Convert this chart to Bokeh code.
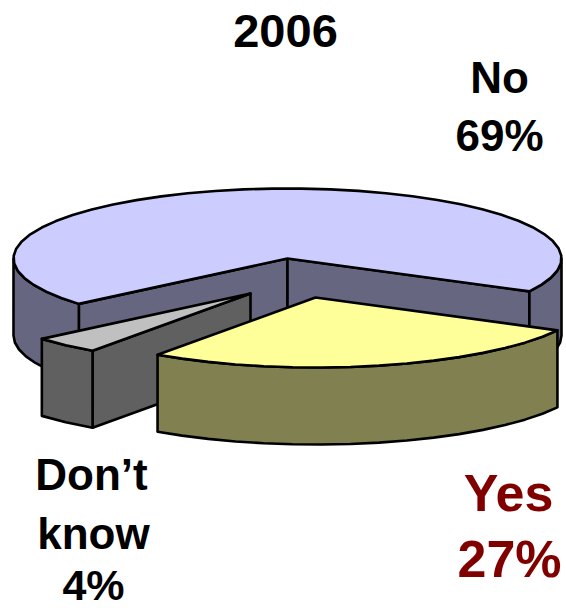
import numpy as np
from bokeh.embed import file_html
from bokeh.models import Range1d
from bokeh.plotting import figure
from bokeh.resources import INLINE
from bokeh.core.properties import value

categories = ["No", "Yes", "Don’t know"]
shares = [69, 27, 4]
title_text = "2006"

# Pie geometry in page pixels
CX, CY = 287, 258
RX, RY = 274, 70
DEPTH = 77
START_DEG = 139.6
EXPLODE = {"No": (0, 0), "Don’t know": (-37, 35), "Yes": (28, 39)}
TOP = {"No": "#CCCCFF", "Don’t know": "#C0C0C0", "Yes": "#FFFF99"}
SIDE = {"No": "#666680", "Don’t know": "#606060", "Yes": "#808050"}
STEP = 6.0

W, H = 566, 608
p = figure(width=W, height=H, x_range=Range1d(0, W), y_range=Range1d(H, 0),
           output_backend="svg", toolbar_location=None, min_border=0,
           outline_line_color=None, background_fill_color="white")
p.axis.visible = False
p.grid.visible = False


def rim(cx, cy, t0, t1):
    n = max(2, int(round((t1 - t0) / STEP)) + 1)
    t = np.radians(np.linspace(t0, t1, n))
    return cx + RX * np.cos(t), cy + RY * np.sin(t)


def face(xs, ys, color):
    p.patch(list(xs), list(ys), fill_color=color, line_color="black",
            line_width=2.6, line_join="round")


def front_spans(t0, t1):
    # Parts of the rim that face the viewer: the lower half of the ellipse
    spans = []
    for k in range(-1, 3):
        a, b = max(t0, 360 * k), min(t1, 360 * k + 180)
        if b > a:
            spans.append((a, b))
    return spans


def draw_slice(name, t0, t1):
    dx, dy = EXPLODE[name]
    cx, cy = CX + dx, CY + dy
    # Cut walls running from the hub to the rim, where they face the viewer
    for t, visible in ((t0, np.cos(np.radians(t0)) < 0), (t1, np.cos(np.radians(t1)) > 0)):
        if visible:
            ex = cx + RX * np.cos(np.radians(t))
            ey = cy + RY * np.sin(np.radians(t))
            face([cx, ex, ex, cx], [cy, ey, ey + DEPTH, cy + DEPTH], SIDE[name])
    # Curved outer wall
    for a, b in front_spans(t0, t1):
        xs, ys = rim(cx, cy, a, b)
        face(np.r_[xs, xs[::-1]], np.r_[ys, ys[::-1] + DEPTH], SIDE[name])
    # Top surface
    xs, ys = rim(cx, cy, t0, t1)
    face(np.r_[cx, xs], np.r_[cy, ys], TOP[name])


# Sweep clockwise on screen from the start angle
angle = START_DEG
spans = {}
for name, share in zip(categories, shares):
    sweep = 360.0 * share / sum(shares)
    spans[name] = (angle, angle + sweep)
    angle += sweep

# Paint back to front
for name in ["No", "Don’t know", "Yes"]:
    draw_slice(name, *spans[name])


def label(x, y, text, size, color="black"):
    p.text([x], [y], text=[text], text_font=value("Liberation Sans"),
           text_font_style="bold", text_font_size=size, text_color=color,
           text_align="center", text_baseline="middle")


label(285, 30, title_text, "47px")
label(499, 77, "No", "44px")
label(499, 135, f"{shares[0]}%", "44px")
label(91, 474, "Don’t", "44px")
label(93, 533, "know", "44px")
label(93, 584, f"{shares[2]}%", "43px")
label(508, 492, "Yes", "52px", "#800000")
label(509, 558, f"{shares[1]}%", "52px", "#800000")

open("out.html", "w").write(file_html(p, INLINE))
